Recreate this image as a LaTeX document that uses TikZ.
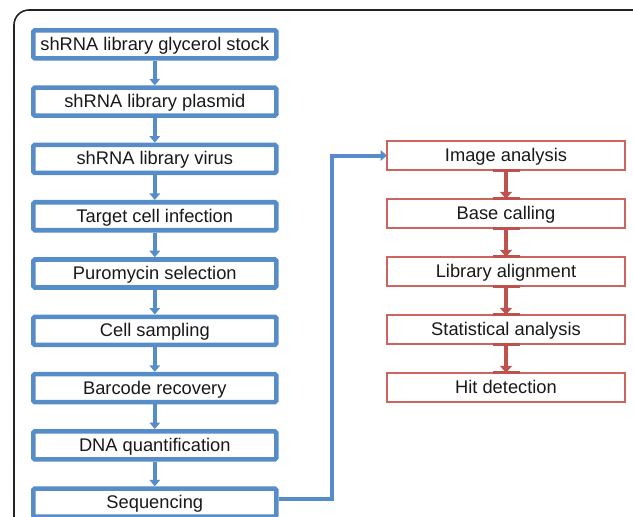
\documentclass[tikz,border=0pt]{standalone}
\usepackage{fontspec}
\setmainfont{Liberation Sans}
\usetikzlibrary{arrows.meta,calc}
\definecolor{bblue}{RGB}{86,140,200}
\definecolor{rbox}{RGB}{206,100,96}
\definecolor{rarr}{RGB}{192,82,78}
\definecolor{txt}{RGB}{25,25,25}
\definecolor{frame}{RGB}{35,35,35}
\tikzset{
  bluebox/.style={draw=bblue, line width=4.6pt, rounded corners=1.5pt, fill=white,
    minimum width=243pt, minimum height=28pt, inner sep=0pt, text=txt,
    text height=13pt, text depth=1pt,
    font=\fontsize{18.3}{22}\selectfont},
  redbox/.style={draw=rbox, line width=1.8pt, fill=white, outer sep=0pt,
    minimum width=238pt, minimum height=29.5pt, inner sep=0pt, text=txt,
    text height=13pt, text depth=1pt,
    font=\fontsize{18.3}{22}\selectfont},
  bluearrow/.style={draw=bblue, line width=4pt, -{Triangle[length=6.5pt,width=10.5pt]}},
  redarrow/.style={draw=rarr, line width=4pt, -{Triangle[length=7pt,width=12pt]}},
  redbar/.style={draw=rarr, line width=3.2pt},
  frameline/.style={draw=frame, line width=1.6pt, rounded corners=15pt}
}
\begin{document}
\begin{tikzpicture}[x=1pt,y=-1pt]
\useasboundingbox (0,0) rectangle (633,517);
\clip (0,0) rectangle (633,517);
\draw[frameline] (14,10) rectangle (655,545);
% blue column
\node[bluebox] (b1) at (154.8,44.3) {shRNA library glycerol stock};
\node[bluebox] (b2) at (154.8,101.6) {shRNA library plasmid};
\node[bluebox] (b3) at (154.8,158.9) {shRNA library virus};
\node[bluebox] (b4) at (154.8,216.2) {Target cell infection};
\node[bluebox] (b5) at (154.8,273.5) {Puromycin selection};
\node[bluebox] (b6) at (154.8,330.8) {Cell sampling};
\node[bluebox] (b7) at (154.8,388.1) {Barcode recovery};
\node[bluebox] (b8) at (154.8,445.3) {DNA quantification};
\node[bluebox] (b9) at (154.8,502.6) {Sequencing};
\foreach \a/\b in {b1/b2,b2/b3,b3/b4,b4/b5,b5/b6,b6/b7,b7/b8,b8/b9}
  \draw[bluearrow] (\a.south) -- (\b.north);
% red column
\node[redbox] (r1) at (506,155.5) {Image analysis};
\node[redbox] (r2) at (506,213.5) {Base calling};
\node[redbox] (r3) at (506,271.5) {Library alignment};
\node[redbox] (r4) at (506,329.5) {Statistical analysis};
\node[redbox] (r5) at (506,387.5) {Hit detection};
\foreach \a/\b in {r1/r2,r2/r3,r3/r4,r4/r5}{
  \draw[redarrow] (\a.south) -- (\b.north);
  \draw[redbar] ([xshift=-13.5pt]\a.south) -- ([xshift=13.5pt]\a.south);
  \draw[redbar] ([xshift=-13.5pt]\b.north) -- ([xshift=13.5pt]\b.north);
}
% connector
\draw[bluearrow] ([yshift=3.3pt]b9.east) -- ++(53,0) |- (r1.west);
\end{tikzpicture}
\end{document}
